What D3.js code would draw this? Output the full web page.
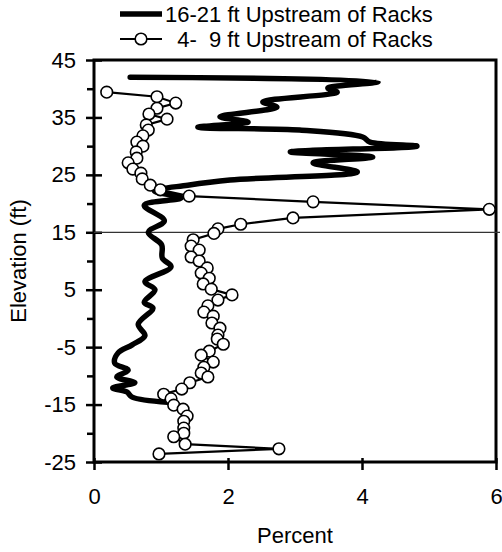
<!DOCTYPE html>
<html>
<head>
<meta charset="utf-8">
<script src="https://cdn.jsdelivr.net/npm/d3@7"></script>
<style>
body { margin: 0; background: #fff; }
text { font-family: "Liberation Sans", Arial, sans-serif; fill: #000; }
</style>
</head>
<body>
<svg width="502" height="552"></svg>
<script>
// 16-21 ft upstream of racks (thick line)
var farPct  = [0.54, 4.24, 3.49, 3.63, 2.52, 2.73, 1.88, 2.30, 1.55, 3.07, 4.01, 4.12, 4.82, 2.93, 4.16, 3.27, 3.93, 2.03, 1.40, 0.90, 1.30, 0.75, 1.05, 0.81, 1.01, 1.02, 1.15, 0.76, 0.91, 0.75, 0.88, 0.66, 0.76, 0.57, 0.36, 0.31, 0.51, 0.34, 0.61, 0.28, 0.49, 0.57, 1.10];
var farElev = [42.0, 41.2, 40.1, 39.4, 37.7, 36.8, 35.1, 34.2, 33.3, 32.8, 31.6, 30.7, 30.0, 29.0, 28.1, 27.1, 25.5, 24.1, 23.2, 22.2, 21.0, 19.7, 17.0, 15.0, 12.8, 10.5, 9.0, 6.4, 5.0, 2.8, 1.8, -1.0, -3.0, -4.6, -6.0, -7.8, -9.0, -10.2, -11.2, -12.1, -12.8, -13.7, -14.6];

// 4-9 ft upstream of racks (open circles)
var nearPct  = [0.19, 0.94, 1.22, 0.94, 0.82, 1.09, 0.78, 0.81, 0.73, 0.64, 0.73, 0.63, 0.64, 0.51, 0.58, 0.70, 0.72, 0.84, 0.99, 1.42, 3.27, 5.90, 2.97, 2.19, 1.85, 1.79, 1.48, 1.45, 1.57, 1.45, 1.57, 1.69, 1.60, 1.72, 1.63, 1.75, 2.06, 1.85, 1.70, 1.64, 1.78, 1.76, 1.88, 1.85, 1.84, 1.93, 1.72, 1.60, 1.78, 1.64, 1.60, 1.70, 1.43, 1.31, 1.04, 1.15, 1.19, 1.33, 1.39, 1.34, 1.34, 1.34, 1.19, 1.36, 2.76, 0.97];
var nearElev = [39.4, 38.6, 37.5, 36.6, 35.6, 34.7, 33.7, 32.8, 31.8, 30.7, 30.0, 29.0, 27.9, 27.1, 26.0, 25.3, 24.3, 23.2, 22.4, 21.3, 20.3, 19.0, 17.5, 16.4, 15.6, 14.8, 13.7, 12.6, 11.9, 10.7, 10.0, 8.8, 7.9, 7.0, 6.0, 5.1, 4.1, 3.2, 2.2, 1.1, 0.4, -0.8, -1.7, -2.9, -3.6, -4.5, -5.7, -6.4, -7.6, -8.5, -9.5, -10.2, -11.2, -12.3, -13.2, -14.0, -15.1, -15.8, -17.0, -17.9, -19.1, -20.0, -20.6, -21.9, -22.7, -23.6];

var xTicks = [0, 2, 4, 6];
var yTicks = [45, 35, 25, 15, 5, -5, -15, -25];
var yMinor = [40, 30, 20, 10, 0, -10, -20];
var refElev = 15;
var legendNames = ["16-21 ft Upstream of Racks", "  4-  9 ft Upstream of Racks"];

var svg = d3.select("svg");

var x = d3.scaleLinear().domain([0, 6]).range([94, 496]);
var y = d3.scaleLinear().domain([-25, 45]).range([462, 60]);

// plain hyphen for negatives, like the original
var plain = function(d) { return String(d); };

// axes (ticks cross the axis line like the excel original)
svg.append("g")
  .attr("transform", "translate(0," + y(-25) + ")")
  .call(d3.axisBottom(x).tickValues(xTicks).tickSize(8).tickPadding(18).tickFormat(plain));
svg.append("g")
  .attr("transform", "translate(0," + y(-25) + ")")
  .call(d3.axisTop(x).tickValues(xTicks).tickSize(4).tickFormat(""));

svg.append("g")
  .attr("transform", "translate(" + x(0) + ",0)")
  .call(d3.axisLeft(y).tickValues(yTicks).tickSize(8).tickPadding(10).tickFormat(plain));
svg.append("g")
  .attr("transform", "translate(" + x(0) + ",0)")
  .call(d3.axisRight(y).tickValues(yTicks).tickSize(8).tickFormat(""));
svg.append("g")
  .attr("transform", "translate(" + x(0) + ",0)")
  .call(d3.axisLeft(y).tickValues(yMinor).tickSize(7).tickFormat(""));

svg.selectAll(".domain").remove();
svg.selectAll(".tick line").attr("stroke", "#000").attr("stroke-width", 2.5);
svg.selectAll(".tick text").style("font-size", "22px").attr("fill", "#000");

// plot frame
svg.append("rect")
  .attr("x", x(0)).attr("y", y(45))
  .attr("width", x(6) - x(0)).attr("height", y(-25) - y(45))
  .attr("fill", "none").attr("stroke", "#000").attr("stroke-width", 3);

// reference line at 15 ft
svg.append("line")
  .attr("x1", x(0)).attr("x2", x(6) + 4)
  .attr("y1", y(refElev)).attr("y2", y(refElev))
  .attr("stroke", "#333").attr("stroke-width", 1.2);

// thick series
var farData = farPct.map(function(d, i) { return [d, farElev[i]]; });
var line = d3.line()
  .x(function(d) { return x(d[0]); })
  .y(function(d) { return y(d[1]); });

svg.append("path")
  .datum(farData)
  .attr("d", line.curve(d3.curveCatmullRom.alpha(0.5)))
  .attr("fill", "none")
  .attr("stroke", "#000")
  .attr("stroke-width", 5.5)
  .attr("stroke-linejoin", "round")
  .attr("stroke-linecap", "round");

// circle series
var nearData = nearPct.map(function(d, i) { return [d, nearElev[i]]; });
svg.append("path")
  .datum(nearData)
  .attr("d", d3.line().x(function(d) { return x(d[0]); }).y(function(d) { return y(d[1]); }))
  .attr("fill", "none")
  .attr("stroke", "#000")
  .attr("stroke-width", 2.2);

svg.append("g").selectAll("circle")
  .data(nearData)
  .enter().append("circle")
  .attr("cx", function(d) { return x(d[0]); })
  .attr("cy", function(d) { return y(d[1]); })
  .attr("r", 5.8)
  .attr("fill", "#fff")
  .attr("stroke", "#000")
  .attr("stroke-width", 1.6);

// legend
var legend = svg.append("g");
legend.append("line")
  .attr("x1", 120).attr("x2", 162).attr("y1", 14).attr("y2", 14)
  .attr("stroke", "#000").attr("stroke-width", 5.5);
legend.append("line")
  .attr("x1", 120).attr("x2", 162).attr("y1", 39).attr("y2", 39)
  .attr("stroke", "#000").attr("stroke-width", 2.2);
legend.append("circle")
  .attr("cx", 141).attr("cy", 39).attr("r", 5.8)
  .attr("fill", "#fff").attr("stroke", "#000").attr("stroke-width", 1.6);
legend.selectAll("text")
  .data(legendNames)
  .enter().append("text")
  .attr("x", 165)
  .attr("y", function(d, i) { return 22 + i * 25; })
  .attr("fill", "#000")
  .style("font-size", "22px")
  .style("white-space", "pre")
  .attr("xml:space", "preserve")
  .text(function(d) { return d; });

// axis titles
svg.append("text")
  .attr("x", (x(0) + x(6)) / 2)
  .attr("y", 543)
  .attr("text-anchor", "middle")
  .attr("fill", "#000")
  .style("font-size", "22px")
  .text("Percent");

svg.append("text")
  .attr("transform", "translate(26," + ((y(45) + y(-25)) / 2) + ") rotate(-90)")
  .attr("text-anchor", "middle")
  .attr("fill", "#000")
  .style("font-size", "22px")
  .text("Elevation (ft)");
</script>
</body>
</html>
